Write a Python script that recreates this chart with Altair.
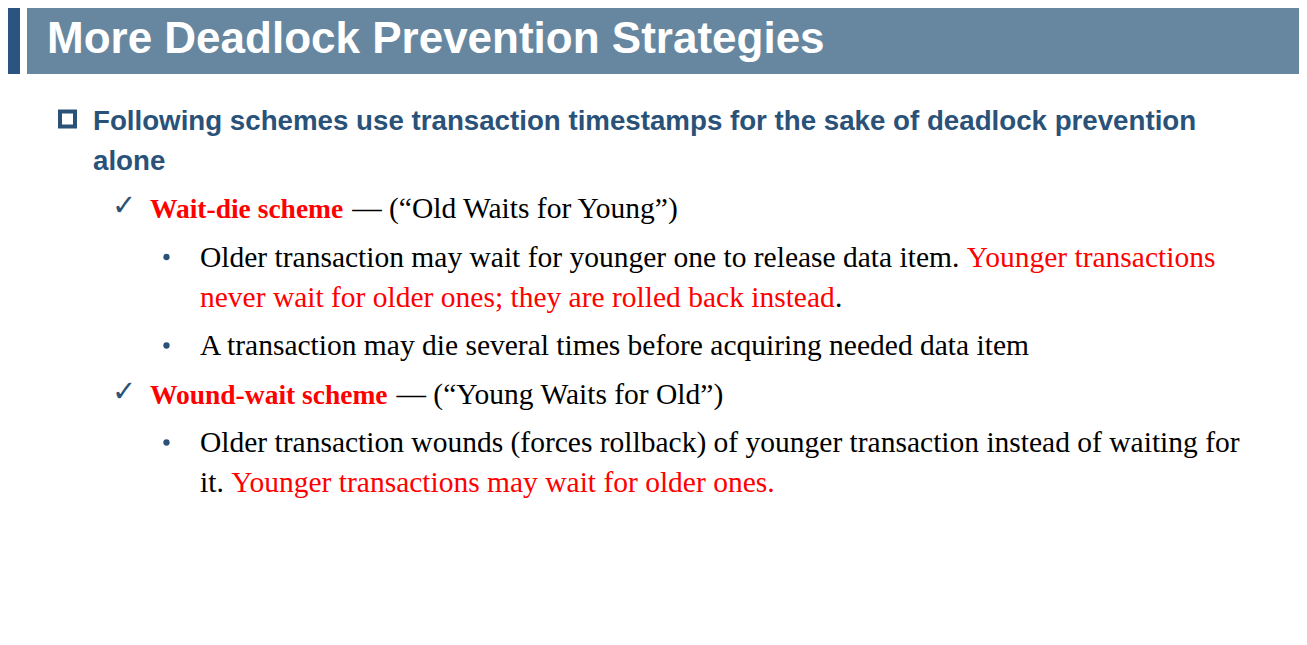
import altair as alt
import pandas as pd

W, H = 1291, 629  # drawing area inside the 8px page margin
OFF = 8

TITLE = "More Deadlock Prevention Strategies"

# one entry per printed line
para = [0, 0, 1, 2, 2, 3, 4, 5, 5]
level = [0, 0, 1, 2, 2, 2, 1, 2, 2]
run1 = [
    "Following schemes use transaction timestamps for the sake of deadlock prevention",
    "alone",
    "Wait-die scheme",
    "Older transaction may wait for younger one to release data item. ",
    "never wait for older ones; they are rolled back instead",
    "A transaction may die several times before acquiring needed data item",
    "Wound-wait scheme",
    "Older transaction wounds (forces rollback) of younger transaction instead of waiting for",
    "it. ",
]
run2 = [
    "",
    "",
    "— (“Old Waits for Young”)",
    "Younger transactions",
    ".",
    "",
    "— (“Young Waits for Old”)",
    "",
    "Younger transactions may wait for older ones.",
]
run1_red = [False, False, True, False, True, False, True, False, False]
run2_red = [False, False, False, True, False, False, False, False, True]

BLUE = "#2a5279"
DARK = "#2b5580"
LIGHT = "#6787a1"
RED = "#ff0000"
BLACK = "#000000"

SANS = "Liberation Sans"
SERIF = "Liberation Serif"
LEAD = 27.7
HEAD = 27.5
BODY = 29.5

# advance widths (per 1000 em) of the Times metrics used by Liberation Serif
TB = {" ": 250, "-": 333, "W": 1000, "a": 500, "i": 278, "t": 333, "d": 556,
      "e": 444, "s": 389, "c": 444, "h": 556, "m": 833, "o": 500, "u": 556,
      "n": 556, "w": 722}
TR = {" ": 250, ".": 250, ";": 278, ",": 250, "a": 444, "b": 500, "c": 444,
      "d": 500, "e": 444, "f": 333, "g": 500, "h": 500, "i": 278, "j": 278,
      "k": 500, "l": 278, "m": 778, "n": 500, "o": 500, "p": 500, "q": 500,
      "r": 333, "s": 389, "t": 278, "u": 500, "v": 500, "w": 722, "x": 500,
      "y": 500, "z": 444, "O": 722, "A": 722, "Y": 722, "W": 944}


def width(s, table, size):
    return sum(table.get(ch, 500) for ch in s) * size / 1000


indent = {0: 93, 1: 150, 2: 200}

rows = []
wraps = 0
prev = None
for p, lv, a, b, ra, rb in zip(para, level, run1, run2, run1_red, run2_red):
    if p == prev:
        wraps += 1
    if lv == 1:
        tail = indent[lv] + width(a, TB, HEAD) + width(" ", TR, BODY)
    else:
        tail = indent[lv] + width(a, TR, BODY)
    rows.append({
        "para": p, "level": lv, "first": p != prev,
        "y": 129.5 + 48.5 * p + 40 * wraps,
        "x": indent[lv], "x2": tail, "run1": a.rstrip(), "run2": b,
        "c1": BLUE if lv == 0 else (RED if ra else BLACK),
        "c2": RED if rb else BLACK,
    })
    prev = p
df = pd.DataFrame(rows)

xs = alt.Scale(domain=[OFF, OFF + W], nice=False, zero=False)
ys = alt.Scale(domain=[OFF, OFF + H], nice=False, zero=False, reverse=True)


def X(f):
    return alt.X(f, type="quantitative", scale=xs, axis=None)


def Y(f):
    return alt.Y(f, type="quantitative", scale=ys, axis=None)


header = pd.DataFrame({
    "x": [0, 27], "x2": [20, 1307], "y": [0, 0], "y2": [74, 74],
    "c": [DARK, LIGHT],
})
bars = alt.Chart(header).mark_rect().encode(
    x=X("x"), x2="x2", y=Y("y"), y2="y2",
    color=alt.Color("c:N", scale=None),
)

title = alt.Chart(pd.DataFrame({"t": [TITLE], "x": [47], "y": [53]})).mark_text(
    font=SANS, fontSize=44, fontWeight="bold", color="white",
    align="left", baseline="alphabetic",
).encode(x=X("x"), y=Y("y"), text="t:N")

firsts = df[df["first"]]

square = alt.Chart(firsts[firsts["level"] == 0]).transform_calculate(
    cx="datum.x - 25.5", cy="datum.y - 10.5"
).mark_square(
    filled=False, size=225, strokeWidth=4, color=BLUE, opacity=1,
).encode(x=X("cx"), y=Y("cy"))

checks = alt.Chart(firsts[firsts["level"] == 1]).transform_calculate(
    cx="datum.x - 38", t="'✓'"
).mark_text(
    font="DejaVu Sans", fontSize=29, color="#2c5276",
    align="left", baseline="alphabetic", dy=-3,
).encode(x=X("cx"), y=Y("y"), text="t:N")

dots = alt.Chart(firsts[firsts["level"] == 2]).transform_calculate(
    cx="datum.x - 33.5", cy="datum.y - 9.5"
).mark_circle(size=40, color=BLUE, opacity=1).encode(x=X("cx"), y=Y("cy"))

lead = alt.Chart(df[df["level"] == 0]).mark_text(
    font=SANS, fontSize=LEAD, fontWeight="bold",
    align="left", baseline="alphabetic",
).encode(x=X("x"), y=Y("y"), text="run1:N", color=alt.Color("c1:N", scale=None))

head_name = alt.Chart(df[df["level"] == 1]).mark_text(
    font=SERIF, fontSize=HEAD, fontWeight="bold",
    align="left", baseline="alphabetic",
).encode(x=X("x"), y=Y("y"), text="run1:N", color=alt.Color("c1:N", scale=None))

body_head = alt.Chart(df[df["level"] == 2]).mark_text(
    font=SERIF, fontSize=BODY, align="left", baseline="alphabetic",
).encode(x=X("x"), y=Y("y"), text="run1:N", color=alt.Color("c1:N", scale=None))

tails = alt.Chart(df[(df["level"] > 0) & (df["run2"] != "")]).mark_text(
    font=SERIF, fontSize=BODY, align="left", baseline="alphabetic",
).encode(x=X("x2"), y=Y("y"), text="run2:N", color=alt.Color("c2:N", scale=None))

chart = alt.layer(
    bars, title, square, checks, dots, lead, head_name, body_head, tails
).properties(
    width=W, height=H, padding=0, background="white",
    autosize=alt.AutoSizeParams(type="none"),
).configure_view(stroke=None)

chart.save("out.html", embed_options={"renderer": "svg", "actions": False})
